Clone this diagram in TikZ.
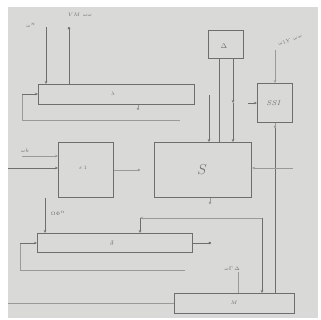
\documentclass[tikz,border=0pt]{standalone}
\usetikzlibrary{arrows.meta}
\definecolor{bg}{HTML}{D9D9D7}
\definecolor{ln}{HTML}{6E6E6E}
\definecolor{lt}{HTML}{9A9A9A}
\begin{document}
\begin{tikzpicture}[x=1pt,y=-1pt,
  blk/.style={draw=ln,line width=1.1pt,anchor=north west,inner sep=0pt,text=ln},
  wire/.style={draw=ln,line width=0.9pt},
  thin/.style={draw=lt,line width=0.6pt},
  arr/.style={-{Stealth[length=3pt,width=2.5pt]}},
  dotend/.style={-{Circle[length=2.5pt]}},
  lab/.style={text=ln,font=\tiny,inner sep=0pt}]
\fill[white] (0,0) rectangle (320,320);
\fill[bg] (8,7) rectangle (318,318);
\useasboundingbox (0,0) rectangle (320,320);
% boxes
\node[blk,minimum width=156pt,minimum height=20pt] (A) at (38,84) {};
\node[lab] at (113,94) {$\lambda$};
\node[blk,minimum width=35pt,minimum height=28pt] (D) at (208,30) {};
\node[lab,font=\scriptsize] at (224,46) {$\Delta$};
\node[blk,minimum width=35pt,minimum height=39pt] (SSI) at (257,83) {};
\node[lab,font=\scriptsize] at (274,103) {$SSI$};
\node[blk,minimum width=55pt,minimum height=55pt] (C) at (58,142) {};
\node[lab] at (83,168) {$\varepsilon\,1$};
\node[blk,minimum width=97pt,minimum height=55pt] (S) at (154,142) {};
\node[lab,font=\Large] at (202,170) {$S$};
\node[blk,minimum width=155pt,minimum height=19pt] (B) at (37,233) {};
\node[lab,font=\scriptsize] at (112,243) {$\delta$};
\node[blk,minimum width=120pt,minimum height=20pt] (M) at (174,293) {};
\node[lab] at (234,303) {$M$};
% labels
\node[lab] at (31,25) {$\omega^{n}$};
\node[lab] at (80,15) {$VM\ \omega\omega$};
\node[lab,rotate=20] at (290,40) {$\omega 1Y\ \omega\omega$};
\node[lab] at (25,151) {$\omega k$};
\node[lab] at (58,213) {$\Omega\Phi^{n}$};
\node[lab] at (232,269) {$\omega\Gamma\,\Delta$};
% coordinates
\coordinate (a1) at (46,27);
\coordinate (a2) at (69,27);
\coordinate (fb1) at (180,120);
\coordinate (fb2) at (22,120);
\coordinate (fb3) at (22,94);
\coordinate (at) at (138,110);
\coordinate (s3) at (209,95);
\coordinate (q1) at (275,50);
\coordinate (q2) at (248,103);
\coordinate (qt) at (275,128);
\coordinate (c1) at (22,156);
\coordinate (c2) at (8,168);
\coordinate (c3) at (140,170);
\coordinate (sr) at (293,168);
\coordinate (st) at (210,204);
\coordinate (h1) at (140,218);
\coordinate (h2) at (262,218);
\coordinate (bo) at (211,243);
\coordinate (bl1) at (20,270);
\coordinate (bl2) at (185,270);
\coordinate (bl0) at (20,243);
\coordinate (m1) at (238,272);
\coordinate (m2) at (8,303);
% connectors
\draw[wire,arr] (a1) -- (a1 |- A.north);
\draw[wire,{Circle[length=2.5pt]}-] (a2) -- (a2 |- A.north);
\draw[thin] (fb1) -- (fb2) -- (fb3);
\draw[wire,arr] (fb3) -- (A.west |- fb3);
\draw[thin,dotend] (A.south -| at) -- (at);
\draw[wire] (D.south -| 219,0) -- (S.north -| 219,0);
\draw[wire,arr] (D.south -| 233,0) -- (233,103);
\draw[wire,arr] (233,103) -- (S.north -| 233,0);
\draw[wire,arr] (s3) -- (S.north -| s3);
\draw[thin,arr] (q1) -- (SSI.north -| q1);
\draw[wire,arr] (q2) -- (SSI.west |- q2);
\draw[thin,dotend] (SSI.south -| qt) -- (qt);
\draw[wire] (qt) -- (M.north -| qt);
\draw[thin,arr] (c1) -- (C.west |- c1);
\draw[wire,arr] (c2) -- (C.west |- c2);
\draw[thin,dotend] (C.east |- c3) -- (c3);
\draw[thin,arr] (sr) -- (S.east |- sr);
\draw[thin,dotend] (S.south -| st) -- (st);
\draw[wire,arr] (C.south -| 45,0) -- (B.north -| 45,0);
\draw[thin,{Stealth[length=3pt,width=2.5pt]}-] (h1) -- (h2);
\draw[wire,arr] (h2) -- (M.north -| h2);
\draw[wire,arr] (h1) -- (B.north -| h1);
\draw[wire,dotend] (B.east |- bo) -- (bo);
\draw[thin] (bl2) -- (bl1) -- (bl0);
\draw[wire,arr] (bl0) -- (B.west |- bl0);
\draw[thin] (m1) -- (M.north -| m1);
\draw[thin] (m2) -- (M.west |- m2);
\end{tikzpicture}
\end{document}
